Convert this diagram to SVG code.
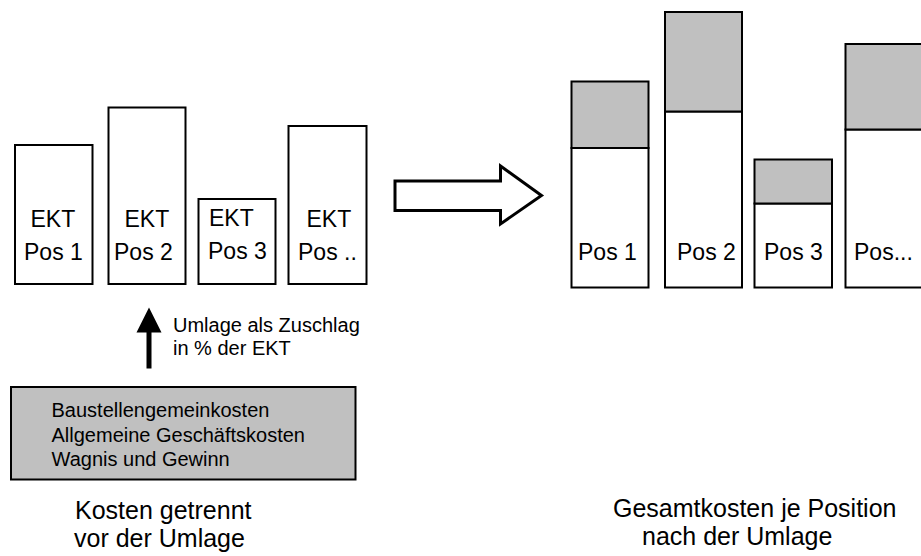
<svg xmlns="http://www.w3.org/2000/svg" width="921" height="556" viewBox="0 0 921 556">
<style>
  .box { fill: #ffffff; stroke: #000000; stroke-width: 2; }
  .gray { fill: #c0c0c0; stroke: #000000; stroke-width: 2; }
  text { font-family: "Liberation Sans", Arial, sans-serif; fill: #000000; }
  .mid { font-size: 23px; }
  .small { font-size: 20px; }
  .big { font-size: 25px; }
</style>
<rect x="0" y="0" width="921" height="556" fill="#ffffff"/>

<g id="ekt1">
  <rect class="box" x="15" y="145" width="77.5" height="139"/>
  <text class="mid" x="30.5" y="226.5">EKT</text>
  <text class="mid" x="24" y="260">Pos 1</text>
</g>
<g id="ekt2">
  <rect class="box" x="108.5" y="107.5" width="77" height="176.5"/>
  <text class="mid" x="124.5" y="226.5">EKT</text>
  <text class="mid" x="114" y="260">Pos 2</text>
</g>
<g id="ekt3">
  <rect class="box" x="198.5" y="199" width="77" height="85"/>
  <text class="mid" x="209" y="226">EKT</text>
  <text class="mid" x="208" y="258.5">Pos 3</text>
</g>
<g id="ekt4">
  <rect class="box" x="288.5" y="126" width="78" height="158"/>
  <text class="mid" x="306.5" y="226.5">EKT</text>
  <text class="mid" x="298" y="260">Pos ..</text>
</g>

<g id="pos1">
  <rect class="box" x="571.5" y="148" width="77" height="139.5"/>
  <rect class="gray" x="571.5" y="81.5" width="77" height="66.5"/>
  <text class="mid" x="578" y="259.5">Pos 1</text>
</g>
<g id="pos2">
  <rect class="box" x="665" y="111.5" width="77" height="176"/>
  <rect class="gray" x="665" y="12" width="77" height="99.5"/>
  <text class="mid" x="677" y="259.5">Pos 2</text>
</g>
<g id="pos3">
  <rect class="box" x="754.5" y="203.5" width="77.5" height="84"/>
  <rect class="gray" x="754.5" y="159.5" width="77.5" height="44"/>
  <text class="mid" x="764" y="259.5">Pos 3</text>
</g>
<g id="pos4">
  <rect class="box" x="845.5" y="129.5" width="90" height="158"/>
  <rect class="gray" x="845.5" y="44" width="90" height="85.5"/>
  <text class="mid" x="854" y="259.5">Pos...</text>
</g>

<g id="kosten">
  <rect class="gray" x="11" y="387" width="344.5" height="92.5"/>
  <text class="small" x="51.5" y="416.5">Baustellengemeinkosten</text>
  <text class="small" x="51.5" y="441.5">Allgemeine Geschäftskosten</text>
  <text class="small" x="51.5" y="466">Wagnis und Gewinn</text>
</g>

<g id="connectors">
  <polygon points="395,181 500.5,181 500.5,166 541.5,195.5 500.5,224 500.5,210.5 395,210.5" fill="#ffffff" stroke="#000000" stroke-width="3" stroke-linejoin="miter"/>
  <rect x="146.5" y="330" width="5" height="38.5" fill="#000000"/>
  <polygon points="136.5,332.5 161.5,332.5 149,307.5" fill="#000000"/>
  <text class="small" x="173" y="331.5">Umlage als Zuschlag</text>
  <text class="small" x="173" y="355">in % der EKT</text>
</g>

<g id="labels">
  <text class="big" x="75" y="519">Kosten getrennt</text>
  <text class="big" x="74" y="547">vor der Umlage</text>
  <text class="big" x="613" y="517">Gesamtkosten je Position</text>
  <text class="big" x="642" y="545">nach der Umlage</text>
</g>
</svg>
